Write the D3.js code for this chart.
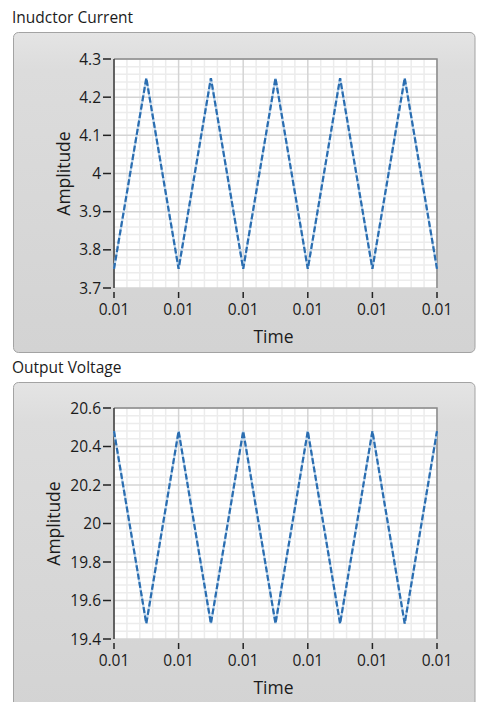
<!DOCTYPE html>
<html>
<head>
<meta charset="utf-8">
<script src="https://cdn.jsdelivr.net/npm/d3@7"></script>
<style>
    html, body { margin: 0; padding: 0; background: #fff; }
    svg { display: block; }
    text { font-family: "Open Sans", "Noto Sans", sans-serif; fill: #1b1b1b; }
</style>
</head>
<body>
<svg id="chart" width="478" height="702"></svg>
<script>
// Waveform corner points (time in seconds)
var timeValues = [0.01, 0.010025, 0.01005, 0.010075, 0.0101, 0.010125, 0.01015, 0.010175, 0.0102, 0.010225, 0.01025];
var currentValues = [3.75, 4.25, 3.75, 4.25, 3.75, 4.25, 3.75, 4.25, 3.75, 4.25, 3.75];
var voltageValues = [20.48, 19.48, 20.48, 19.48, 20.48, 19.48, 20.48, 19.48, 20.48, 19.48, 20.48];

// Axis ticks
var timeTicks = [0.01, 0.01005, 0.0101, 0.01015, 0.0102, 0.01025];
var currentTicks = [3.7, 3.8, 3.9, 4, 4.1, 4.2, 4.3];
var voltageTicks = [19.4, 19.6, 19.8, 20, 20.2, 20.4, 20.6];

var MINOR_DIVISIONS = 5,
    LINE_COLOR = '#2a6db0',
    LINE_GLOW = '#bcd5ec';

var svg = d3.select('#chart');

var defs = svg.append('defs');
var grad = defs.append('linearGradient')
    .attr('id', 'panelFill')
    .attr('x1', 0).attr('y1', 0).attr('x2', 0).attr('y2', 1);
grad.append('stop').attr('offset', '0%').attr('stop-color', '#e4e4e4');
grad.append('stop').attr('offset', '12%').attr('stop-color', '#dcdcdc');
grad.append('stop').attr('offset', '100%').attr('stop-color', '#d3d3d3');

function buildChart(cfg) {
    var g = svg.append('g');

    g.append('text')
        .attr('x', 12)
        .attr('y', cfg.titleY)
        .attr('font-size', 15.5)
        .text(cfg.title);

    g.append('rect')
        .attr('x', 13.5)
        .attr('y', cfg.panelY + 0.5)
        .attr('width', 461.5)
        .attr('height', cfg.panelH)
        .attr('rx', 5)
        .attr('fill', 'url(#panelFill)')
        .attr('stroke', '#a3a3a3');

    var x = d3.scaleLinear()
        .domain([timeTicks[0], timeTicks[timeTicks.length - 1]])
        .range([cfg.left, cfg.right]);
    var y = d3.scaleLinear()
        .domain([cfg.ticks[0], cfg.ticks[cfg.ticks.length - 1]])
        .range([cfg.bottom, cfg.top]);

    g.append('rect')
        .attr('x', cfg.left)
        .attr('y', cfg.top)
        .attr('width', cfg.right - cfg.left)
        .attr('height', cfg.bottom - cfg.top)
        .attr('fill', '#fff');

    // Minor grid lines between major ticks
    var minorX = [], minorY = [];
    timeTicks.slice(1).forEach(function(t, i) {
        var a = x(timeTicks[i]), b = x(t);
        for (var k = 1; k < MINOR_DIVISIONS; k++) minorX.push(a + (b - a) * k / MINOR_DIVISIONS);
    });
    cfg.ticks.slice(1).forEach(function(t, i) {
        var a = y(cfg.ticks[i]), b = y(t);
        for (var k = 1; k < MINOR_DIVISIONS; k++) minorY.push(a + (b - a) * k / MINOR_DIVISIONS);
    });

    g.selectAll('line.minor-x').data(minorX).enter().append('line')
        .attr('x1', function(d) { return d; }).attr('x2', function(d) { return d; })
        .attr('y1', cfg.top).attr('y2', cfg.bottom)
        .attr('stroke', '#ececec').attr('stroke-width', 1.5);
    g.selectAll('line.minor-y').data(minorY).enter().append('line')
        .attr('y1', function(d) { return d; }).attr('y2', function(d) { return d; })
        .attr('x1', cfg.left).attr('x2', cfg.right)
        .attr('stroke', '#ececec').attr('stroke-width', 1.5);

    // Major grid lines
    g.selectAll('line.major-x').data(timeTicks).enter().append('line')
        .attr('x1', function(d) { return x(d); }).attr('x2', function(d) { return x(d); })
        .attr('y1', cfg.top).attr('y2', cfg.bottom)
        .attr('stroke', '#d4d4d4').attr('stroke-width', 1.5);
    g.selectAll('line.major-y').data(cfg.ticks).enter().append('line')
        .attr('y1', function(d) { return y(d); }).attr('y2', function(d) { return y(d); })
        .attr('x1', cfg.left).attr('x2', cfg.right)
        .attr('stroke', '#d4d4d4').attr('stroke-width', 1.5);

    // Plot frame: top and right gray, left is the axis
    g.append('path')
        .attr('d', 'M' + cfg.left + ',' + cfg.top + 'H' + cfg.right + 'V' + cfg.bottom)
        .attr('fill', 'none')
        .attr('stroke', '#8a8a8a')
        .attr('stroke-width', 1.5);
    g.append('line')
        .attr('x1', cfg.left).attr('x2', cfg.left)
        .attr('y1', cfg.top).attr('y2', cfg.bottom)
        .attr('stroke', '#3a3a3a').attr('stroke-width', 1.5);

    // Data line
    var points = timeValues.map(function(t, i) { return [t, cfg.values[i]]; });
    var line = d3.line()
        .x(function(d) { return x(d[0]); })
        .y(function(d) { return y(d[1]); });

    g.append('path')
        .datum(points)
        .attr('d', line)
        .attr('fill', 'none')
        .attr('stroke', LINE_GLOW)
        .attr('stroke-width', 2.2);
    g.append('path')
        .datum(points)
        .attr('d', line)
        .attr('fill', 'none')
        .attr('stroke', LINE_COLOR)
        .attr('stroke-width', 2.2)
        .attr('stroke-dasharray', '6,2.5');

    // Y axis ticks and labels
    var yTick = g.selectAll('g.ytick').data(cfg.ticks).enter().append('g')
        .attr('transform', function(d) { return 'translate(0,' + y(d) + ')'; });
    yTick.append('line')
        .attr('x1', cfg.left - 11).attr('x2', cfg.left - 3)
        .attr('stroke', '#222').attr('stroke-width', 1.5);
    yTick.append('text')
        .attr('x', cfg.left - 13)
        .attr('dy', '0.36em')
        .attr('text-anchor', 'end')
        .attr('font-size', 15.5)
        .text(function(d) { return d3.format('~r')(d); });

    // X axis ticks and labels
    var xTick = g.selectAll('g.xtick').data(timeTicks).enter().append('g')
        .attr('transform', function(d) { return 'translate(' + x(d) + ',0)'; });
    xTick.append('line')
        .attr('y1', cfg.bottom + 4).attr('y2', cfg.bottom + 10)
        .attr('stroke', '#222').attr('stroke-width', 1.5);
    xTick.append('text')
        .attr('y', cfg.bottom + 27)
        .attr('text-anchor', 'middle')
        .attr('font-size', 15.5)
        .text(function(d) { return d3.format('.2f')(d); });

    // Axis titles
    g.append('text')
        .attr('x', (cfg.left + cfg.right) / 2 - 2)
        .attr('y', cfg.bottom + 55)
        .attr('text-anchor', 'middle')
        .attr('font-size', 17.5)
        .text('Time');
    g.append('text')
        .attr('transform', 'translate(' + cfg.ampX + ',' + (cfg.top + cfg.bottom) / 2 + ') rotate(-90)')
        .attr('text-anchor', 'middle')
        .attr('font-size', 17.5)
        .text('Amplitude');
}

buildChart({
    title: 'Inudctor Current',
    titleY: 23,
    panelY: 32,
    panelH: 320,
    left: 114, right: 437, top: 59, bottom: 288,
    ampX: 70,
    ticks: currentTicks,
    values: currentValues
});

buildChart({
    title: 'Output Voltage',
    titleY: 373,
    panelY: 382,
    panelH: 330,
    left: 114, right: 437, top: 408, bottom: 639,
    ampX: 60,
    ticks: voltageTicks,
    values: voltageValues
});
</script>
</body>
</html>
